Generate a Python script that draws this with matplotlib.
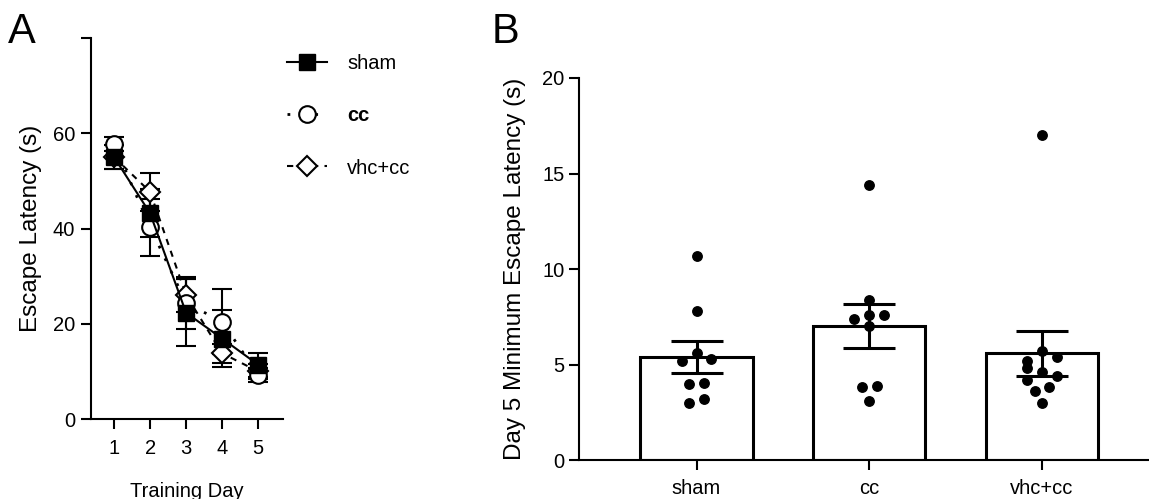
import matplotlib
matplotlib.use("Agg")
import matplotlib.pyplot as plt
from matplotlib.lines import Line2D
import numpy as np

plt.rcParams['font.family'] = ['Liberation Sans', 'DejaVu Sans']

# panel A: escape latency per training day (mean, sem)
days = [1, 2, 3, 4, 5]
sham_mean = [55.0, 43.2, 22.3, 16.9, 11.4]
sham_err = [2.5, 5.0, 7.0, 6.0, 2.5]
cc_mean = [57.7, 40.3, 24.4, 20.4, 9.3]
cc_err = [1.5, 6.0, 5.5, 6.8, 1.5]
vhc_mean = [55.0, 47.7, 26.0, 13.8, 10.0]
vhc_err = [2.5, 4.0, 3.5, 2.0, 1.5]

# panel B: day 5 minimum escape latency
groups = ["sham", "cc", "vhc+cc"]
bar_mean = [5.4, 7.0, 5.6]
bar_sem = [0.85, 1.15, 1.18]
sham_pts = [10.7, 7.8, 5.6, 5.2, 5.3, 4.0, 4.05, 3.0, 3.2]
cc_pts = [14.4, 8.4, 7.6, 7.4, 7.6, 7.0, 3.9, 3.8, 3.1]
vhc_pts = [17.0, 5.7, 5.4, 5.2, 4.8, 4.6, 4.4, 4.2, 3.8, 3.6, 3.0]
# horizontal scatter of the dots (in units of one step)
sham_jit = [0, 0, 0, -1, 1, -0.5, 0.5, -0.5, 0.5]
cc_jit = [0, 0, 0, -1, 1, 0, 0.5, -0.5, 0]
vhc_jit = [0, 0, 1, -1, -1, 0, 1, -1, 0.5, -0.5, 0]

fig = plt.figure(figsize=(11.49, 4.99), dpi=100)

FS = 14.5
YFS = 17.5
LW = 1.5

# ---------- panel A ----------
axA = fig.add_axes([0.0792, 0.1603, 0.1671, 0.7635])
for sp in ['top', 'right']:
    axA.spines[sp].set_visible(False)
for sp in ['left', 'bottom']:
    axA.spines[sp].set_linewidth(LW)

axA.errorbar(days, vhc_mean, yerr=vhc_err, color='black', lw=1.5,
             linestyle=(0, (3, 3)), marker='D', ms=10, mfc='white', mec='black',
             mew=1.5, ecolor='black', elinewidth=1.5, capsize=7, capthick=1.5)
axA.errorbar(days, cc_mean, yerr=cc_err, color='black', lw=2,
             linestyle=(0, (1, 4)), marker='o', ms=12, mfc='white', mec='black',
             mew=1.5, ecolor='black', elinewidth=1.5, capsize=7, capthick=1.5)
axA.errorbar(days, sham_mean, yerr=sham_err, color='black', lw=1.5,
             linestyle='-', marker='s', ms=12, mfc='black', mec='black',
             ecolor='black', elinewidth=1.5, capsize=7, capthick=1.5)

axA.set_xlim(0.36, 5.69)
axA.set_ylim(0, 80)
axA.set_yticks([0, 20, 40, 60, 80])
axA.set_yticklabels(['0', '20', '40', '60', ''])
axA.set_xticks(days)
axA.tick_params(axis='y', labelsize=FS, width=LW, length=7.5, pad=4)
axA.tick_params(axis='x', labelsize=FS, width=LW, length=7.5, pad=7)
axA.set_ylabel("Escape Latency (s)", fontsize=YFS, labelpad=8)
axA.set_xlabel("Training Day", fontsize=FS, labelpad=17)

handles = [
    Line2D([], [], color='black', lw=1.5, ls='-', marker='s', ms=12, mfc='black'),
    Line2D([], [], color='black', lw=2, ls=(0, (1, 4)), marker='o', ms=12,
           mfc='white', mew=1.5),
    Line2D([], [], color='black', lw=1.5, ls=(0, (3, 3)), marker='D', ms=10,
           mfc='white', mew=1.5),
]
leg = fig.legend(handles, groups, loc='upper left', bbox_to_anchor=(0.234, 0.928),
                 frameon=False, fontsize=FS, handlelength=2.0, handletextpad=1.0,
                 labelspacing=1.65)
leg.get_texts()[1].set_fontweight('bold')

fig.text(0.007, 0.975, "A", fontsize=30, va='top', ha='left')

# ---------- panel B ----------
axB = fig.add_axes([0.504, 0.078, 0.496, 0.7657])
for sp in ['top', 'right']:
    axB.spines[sp].set_visible(False)
for sp in ['left', 'bottom']:
    axB.spines[sp].set_linewidth(LW)

x = np.arange(len(groups))
bw = 0.65
axB.bar(x, bar_mean, width=bw, color='white', edgecolor='black', linewidth=2.2, zorder=2)
axB.errorbar(x, bar_mean, yerr=bar_sem, fmt='none', ecolor='black', elinewidth=2.2,
             capsize=19, capthick=2.2, zorder=3)

step = 0.086
for i, (pts, jit) in enumerate(zip([sham_pts, cc_pts, vhc_pts], [sham_jit, cc_jit, vhc_jit])):
    xs = i + np.array(jit) * step
    axB.plot(xs, pts, 'o', color='black', ms=6.8, zorder=4, clip_on=False)

axB.set_xlim(-0.68, 2.62)
axB.set_ylim(0, 20)
axB.set_yticks([0, 5, 10, 15, 20])
axB.set_xticks(x)
axB.set_xticklabels(groups)
axB.tick_params(axis='y', labelsize=FS, width=LW, length=7.5, pad=3)
axB.tick_params(axis='x', labelsize=FS, width=LW, length=7.5, pad=6)
axB.set_ylabel("Day 5 Minimum Escape Latency (s)", fontsize=YFS, labelpad=12)

fig.text(0.428, 0.975, "B", fontsize=30, va='top', ha='left')

fig.savefig("out.png", dpi=100)
